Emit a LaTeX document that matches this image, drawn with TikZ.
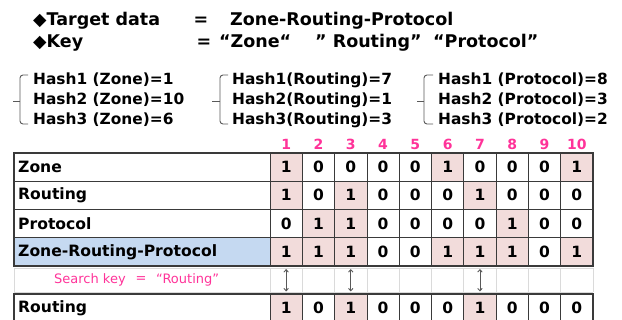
\documentclass[tikz,border=0pt]{standalone}
\usepackage{fontspec}
\setmainfont{DejaVu Sans}
\usetikzlibrary{arrows.meta}
\definecolor{pinkc}{HTML}{F2DCDB}
\definecolor{bluec}{HTML}{C5D9F1}
\definecolor{mag}{HTML}{FF3399}
\definecolor{gridc}{HTML}{3A3A3A}
\definecolor{faintc}{HTML}{DADADA}
\definecolor{brc}{HTML}{595959}
\begin{document}
\begin{tikzpicture}[x=1pt,y=-1pt,
  head/.style={anchor=base west,inner sep=0pt,font=\fontsize{17.5}{20}\selectfont\bfseries},
  headeq/.style={anchor=base,inner sep=0pt,font=\fontsize{17.5}{20}\selectfont\bfseries},
  hash/.style={anchor=base west,inner sep=0pt,font=\fontsize{15.4}{18}\selectfont\bfseries},
  lbl/.style={anchor=west,inner sep=0pt,font=\fontsize{15.6}{18}\selectfont\bfseries},
  digit/.style={inner sep=0pt,font=\fontsize{15.5}{18}\selectfont\bfseries},
  colnum/.style={inner sep=0pt,text=mag,font=\fontsize{14}{16}\selectfont\bfseries},
  srch/.style={inner sep=0pt,text=mag,font=\fontsize{13}{16}\selectfont},
  bracel/.style={draw=brc,line width=0.9pt,rounded corners=3pt},
  gridline/.style={draw=gridc,line width=0.8pt},
  thickline/.style={draw=gridc,line width=1.4pt},
  faintline/.style={draw=faintc,line width=0.8pt},
  dbl/.style={draw=brc,line width=0.9pt,{Straight Barb[length=2.5pt,width=4.5pt]}-{Straight Barb[length=2.5pt,width=4.5pt]}}
]
\useasboundingbox (0,0) rectangle (622,320);
\def\cw{32.3}
% header
\node[head] (h1) at (33,26) {◆Target data};
\node[headeq] (h1eq) at (201,26) {=};
\node[head] (h1v) at (230,26) {Zone-Routing-Protocol};
\node[head] (h2) at (33,48) {◆Key};
\node[headeq] (h2eq) at (204,48) {=};
\node[head] (k1) at (219,48) {“Zone“};
\node[head] (k2) at (315,48) {” Routing”};
\node[head] (k3) at (433,48) {“Protocol”};
% hash groups
\draw[bracel] (28,75) -- (20,75) -- (20,124) -- (28,124);
\draw[brc,line width=0.9pt] (20,101) -- (13,101);
\node[hash] (z1) at (33,85) {Hash1 (Zone)=1};
\node[hash] (z2) at (33,105) {Hash2 (Zone)=10};
\node[hash] (z3) at (33,125) {Hash3 (Zone)=6};
\draw[bracel] (228,75) -- (220,75) -- (220,124) -- (228,124);
\draw[brc,line width=0.9pt] (220,101) -- (212,101);
\node[hash] (r1) at (232,85) {Hash1(Routing)=7};
\node[hash] (r2) at (232,105) {Hash2(Routing)=1};
\node[hash] (r3) at (232,125) {Hash3(Routing)=3};
\draw[bracel] (433,75) -- (424,75) -- (424,124) -- (433,124);
\draw[brc,line width=0.9pt] (424,101) -- (417,101);
\node[hash] (p1) at (438,85) {Hash1 (Protocol)=8};
\node[hash] (p2) at (438,105) {Hash2 (Protocol)=3};
\node[hash] (p3) at (438,125) {Hash3 (Protocol)=2};
% column numbers
\foreach \i in {1,...,10} \node[colnum] (n\i) at (270+\cw*\i-\cw/2,144) {\i};
% rows
\foreach \r/\txt/\yt/\vals in {1/Zone/153/{1,0,0,0,0,1,0,0,0,1},2/Routing/181.25/{1,0,1,0,0,0,1,0,0,0},3/Protocol/209.5/{0,1,1,0,0,0,0,1,0,0},4/Zone-Routing-Protocol/237.75/{1,1,1,0,0,1,1,1,0,1},5/Routing/294/{1,0,1,0,0,0,1,0,0,0}}{
  \ifnum\r=4 \fill[bluec] (14,\yt) rectangle (270,\yt+28.25); \fi
  \node[lbl] (l\r) at (18,\yt+14.1) {\txt};
  \foreach \v [count=\c] in \vals {
    \ifnum\v=1 \fill[pinkc] (270+\cw*\c-\cw,\yt) rectangle (270+\cw*\c,\yt+28.25); \fi
    \node[digit] (c\r-\c) at (270+\cw*\c-\cw/2,\yt+14.1) {\v};
  }
}
% main grid
\foreach \y in {181.25,209.5} \draw[gridline] (14,\y) -- (593,\y);
\foreach \i in {0,...,10} \draw[gridline] (270+\cw*\i,153) -- (270+\cw*\i,266);
\draw[thickline] (14,153) rectangle (593,266);
\draw[thickline] (14,237.75) -- (593,237.75);
% gap row
\draw[faintline] (14,268) -- (593,268);
\draw[faintline] (14,292.5) -- (593,292.5);
\draw[faintline] (14,268) -- (14,292.5);
\foreach \i in {0,...,10} \draw[faintline] (270+\cw*\i,268) -- (270+\cw*\i,292.5);
% last row
\foreach \i in {0,...,10} \draw[gridline] (270+\cw*\i,294) -- (270+\cw*\i,322.25);
\draw[thickline] (14,294) rectangle (593,322.25);
% search key
\node[srch,anchor=west] (s1) at (54,280) {Search key};
\node[srch] (s2) at (141,280) {=};
\node[srch,anchor=west] (s3) at (156,280) {“Routing”};
% arrows
\foreach \i in {1,3,7} {
  \coordinate (at\i) at (270+\cw*\i-\cw/2,269);
  \coordinate (ab\i) at (270+\cw*\i-\cw/2,291.5);
  \draw[dbl] (at\i) -- (ab\i);
}
\end{tikzpicture}
\end{document}
